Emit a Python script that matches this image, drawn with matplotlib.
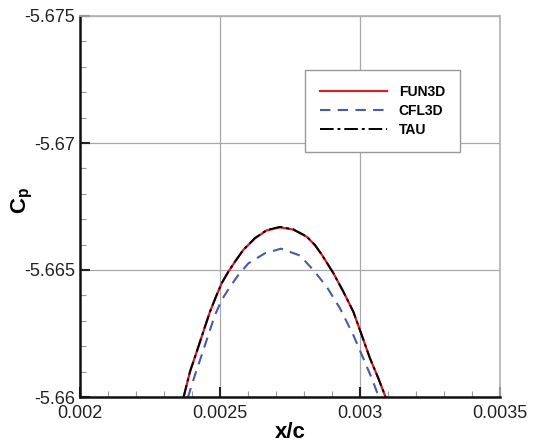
#Cp perto do pico de succao: FUN3D, CFL3D e TAU

import matplotlib.pyplot as plt
from matplotlib.ticker import MultipleLocator, FuncFormatter

plt.rcParams['font.family'] = ['Liberation Sans', 'DejaVu Sans']
plt.rcParams['mathtext.fontset'] = 'custom'
plt.rcParams['mathtext.rm'] = 'Liberation Sans'
plt.rcParams['mathtext.bf'] = 'Liberation Sans:bold'

#Valores
fun3d_x = [0.0023689, 0.0023929, 0.0024168, 0.0024404, 0.0024643, 0.0024882,
           0.0025061, 0.0025275, 0.0025536, 0.0025832, 0.0026250, 0.0026668,
           0.0027143, 0.0027618, 0.0028096, 0.0028393, 0.0028643, 0.0029046,
           0.0029404, 0.0029761, 0.0030061, 0.0030357, 0.0030654, 0.0030929]
fun3d_cp = [-5.65995, -5.66100, -5.66178, -5.66257, -5.66336, -5.66402,
            -5.66448, -5.66489, -5.66533, -5.66579, -5.66625, -5.66656,
            -5.66668, -5.66659, -5.66631, -5.66598, -5.66559, -5.66488,
            -5.66415, -5.66336, -5.66244, -5.66152, -5.66074, -5.65995]

tau_x = [0.0023689, 0.0023929, 0.0024168, 0.0024404, 0.0024643, 0.0024882,
         0.0025061, 0.0025275, 0.0025536, 0.0025832, 0.0026250, 0.0026668,
         0.0027143, 0.0027618, 0.0028096, 0.0028393, 0.0028643, 0.0029046,
         0.0029404, 0.0029761, 0.0030061, 0.0030357, 0.0030654, 0.0030929]
tau_cp = [-5.65995, -5.66100, -5.66178, -5.66257, -5.66336, -5.66402,
          -5.66448, -5.66489, -5.66533, -5.66579, -5.66626, -5.66657,
          -5.66670, -5.66660, -5.66632, -5.66598, -5.66559, -5.66488,
          -5.66415, -5.66336, -5.66244, -5.66152, -5.66074, -5.65995]

cfl3d_x = [0.0023846, 0.0024107, 0.0024346, 0.0024582, 0.0024821, 0.0025061,
           0.0025357, 0.0025654, 0.0026011, 0.0026607, 0.0027179, 0.0027857,
           0.0028332, 0.0028811, 0.0029286, 0.0029761, 0.0030118, 0.0030418,
           0.0030689]
cfl3d_cp = [-5.65996, -5.66087, -5.66165, -5.66244, -5.66323, -5.66382,
            -5.66434, -5.66480, -5.66526, -5.66566, -5.66584, -5.66557,
            -5.66500, -5.66434, -5.66349, -5.66244, -5.66152, -5.66074,
            -5.65995]

x_ticks = [0.002, 0.0025, 0.003, 0.0035]
y_ticks = [-5.675, -5.67, -5.665, -5.66]

fig = plt.figure(figsize=(5.34, 4.45), dpi=100)
ax = fig.add_axes([80/534, 48/445, 420/534, 381/445])

ax.plot(fun3d_x, fun3d_cp, color='#d0202a', lw=1.6, label='FUN3D')
ax.plot(cfl3d_x, cfl3d_cp, color='#4a5aaa', lw=1.5, ls=(0, (5, 3.5)), label='CFL3D')
ax.plot(tau_x, tau_cp, color='black', lw=1.4, ls=(0, (7, 2, 1.5, 2)), label='TAU')

ax.set_xlim(0.002, 0.0035)
ax.set_ylim(-5.66, -5.675)  #eixo invertido

ax.set_xticks(x_ticks)
ax.set_yticks(y_ticks)
ax.xaxis.set_minor_locator(MultipleLocator(0.0001))
ax.yaxis.set_minor_locator(MultipleLocator(0.001))
fmt = FuncFormatter(lambda v, p: '{:g}'.format(round(v, 6)))
ax.xaxis.set_major_formatter(fmt)
ax.yaxis.set_major_formatter(fmt)

ax.tick_params(which='both', direction='in', top=False, right=False, labelsize=13, colors='#222222')
ax.tick_params(which='major', length=7, width=1.5)
ax.tick_params(which='minor', length=4, width=0.8, color='#999999')
ax.tick_params(axis='x', pad=6)

ax.grid(True, which='major', color='#a8a8a8', lw=0.9)

for s in ['left', 'bottom']:
    ax.spines[s].set_linewidth(1.8)
    ax.spines[s].set_color('#111111')
for s in ['top', 'right']:
    ax.spines[s].set_linewidth(1.2)
    ax.spines[s].set_color('#b0b0b0')

ax.set_xlabel('x/c', fontsize=16, fontweight='bold', labelpad=0)
ax.set_ylabel(r'$\mathbf{C_p}$', fontsize=16)
ax.yaxis.set_label_coords(-0.107, 0.517)

leg = ax.legend(loc='upper left', bbox_to_anchor=(305/534, 1 - 70/445),
                bbox_transform=fig.transFigure, fancybox=False, framealpha=1,
                edgecolor='#999999', prop={'weight': 'bold', 'size': 10},
                handlelength=4.8, handletextpad=0.85, labelspacing=0.35,
                borderpad=1.1, borderaxespad=0)
leg.get_frame().set_linewidth(1.0)

fig.savefig('out.png', dpi=100)
